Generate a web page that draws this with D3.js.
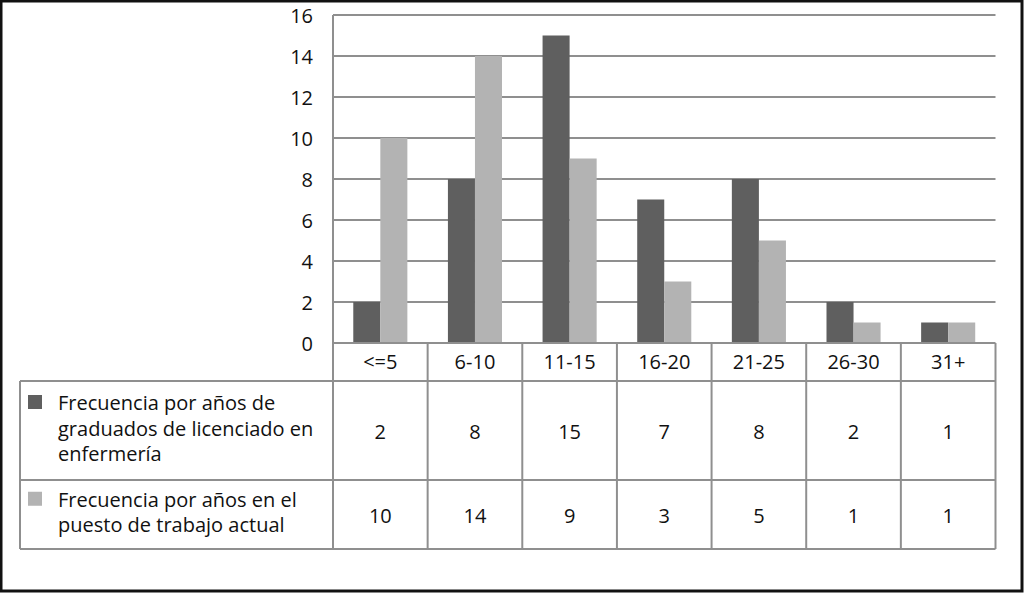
<!DOCTYPE html>
<html><head><meta charset="utf-8">
<script src="https://cdn.jsdelivr.net/npm/d3@7"></script>
<style>html,body{margin:0;padding:0;background:#fff;}svg{display:block;}</style>
</head><body>
<svg id="c" width="1024" height="593"></svg>
<script>
const categories = ["<=5","6-10","11-15","16-20","21-25","26-30","31+"];
const seriesNames = [
  ["Frecuencia por años de","graduados de licenciado en","enfermería"],
  ["Frecuencia por años en el","puesto de trabajo actual"]
];
const graduados = [2,8,15,7,8,2,1];
const puesto = [10,14,9,3,5,1,1];
const yTicks = [0,2,4,6,8,10,12,14,16];
const colors = ["#5f5f5f","#b3b3b3"];
const series = [graduados, puesto];

(function(){
const svg = d3.select("#c");
const font = "'Open Sans', sans-serif";
const fs = 20;
const gridColor = "#8f8f8f";

const pLeft = 333, pRight = 995.5, pTop = 15, pBottom = 343;
const tableLeft = 20;
const rowY = [343, 381, 480, 549];

svg.append("rect").attr("x",1).attr("y",1).attr("width",1021).attr("height",590)
  .attr("fill","#fff").attr("stroke","#111").attr("stroke-width",3);

const x = d3.scaleBand().domain(categories).range([pLeft,pRight]).paddingInner(0).paddingOuter(0);
const xi = d3.scaleBand().domain([0,1]).range([0,x.bandwidth()]).paddingInner(0).paddingOuter(0.75);
const y = d3.scaleLinear().domain([0,16]).range([pBottom,pTop]);

svg.append("g").selectAll("line").data(yTicks.filter(d=>d>0)).join("line")
  .attr("x1",pLeft).attr("x2",pRight).attr("y1",d=>y(d)).attr("y2",d=>y(d))
  .attr("stroke",gridColor).attr("stroke-width",2);

const yAxis = d3.axisLeft(y).tickValues(yTicks).tickSize(0).tickPadding(20);
const ga = svg.append("g").attr("transform",`translate(${pLeft},0)`).call(yAxis);
ga.select(".domain").remove();
ga.selectAll("text").attr("font-family",font).attr("font-size",fs).attr("fill","#111").attr("dy","0.35em");

series.forEach((s,si)=>{
  svg.append("g").selectAll("rect").data(s).join("rect")
    .attr("x",(d,i)=>x(categories[i])+xi(si))
    .attr("width",xi.bandwidth())
    .attr("y",d=>y(d)).attr("height",d=>pBottom-y(d))
    .attr("fill",colors[si]);
});

const tl = svg.append("g").attr("stroke",gridColor).attr("stroke-width",2);
tl.append("line").attr("x1",pLeft).attr("x2",pRight).attr("y1",rowY[0]).attr("y2",rowY[0]);
[1,2,3].forEach(k=>tl.append("line").attr("x1",tableLeft).attr("x2",pRight).attr("y1",rowY[k]).attr("y2",rowY[k]));
tl.append("line").attr("x1",pLeft).attr("x2",pLeft).attr("y1",pTop).attr("y2",rowY[3]);
tl.append("line").attr("x1",tableLeft).attr("x2",tableLeft).attr("y1",rowY[1]).attr("y2",rowY[3]);
categories.forEach((c,i)=>{
  const xx = x(c)+x.bandwidth();
  tl.append("line").attr("x1",xx).attr("x2",xx).attr("y1",rowY[0]).attr("y2",rowY[3]);
});

svg.append("g").selectAll("text").data(categories).join("text")
  .attr("x",d=>x(d)+x.bandwidth()/2).attr("y",(rowY[0]+rowY[1])/2).attr("dy","0.35em")
  .attr("text-anchor","middle").attr("font-family",font).attr("font-size",fs).attr("fill","#111")
  .text(d=>d);

series.forEach((s,si)=>{
  const cy = (rowY[si+1]+rowY[si+2])/2;
  svg.append("g").selectAll("text").data(s).join("text")
    .attr("x",(d,i)=>x(categories[i])+x.bandwidth()/2).attr("y",cy+1).attr("dy","0.35em")
    .attr("text-anchor","middle").attr("font-family",font).attr("font-size",fs).attr("fill","#111")
    .text(d=>d);
  const lines = seriesNames[si];
  const lh = 25.5;
  const y0 = cy - 2 - (lines.length-1)*lh/2;
  svg.append("rect").attr("x",28).attr("y",y0-8).attr("width",14).attr("height",14).attr("fill",colors[si]);
  const t = svg.append("text").attr("font-family",font).attr("font-size",fs).attr("fill","#111");
  lines.forEach((l,li)=>{
    t.append("tspan").attr("x",58).attr("y",y0+li*lh).attr("dy","0.35em").text(l);
  });
});
})();
</script>
</body></html>
